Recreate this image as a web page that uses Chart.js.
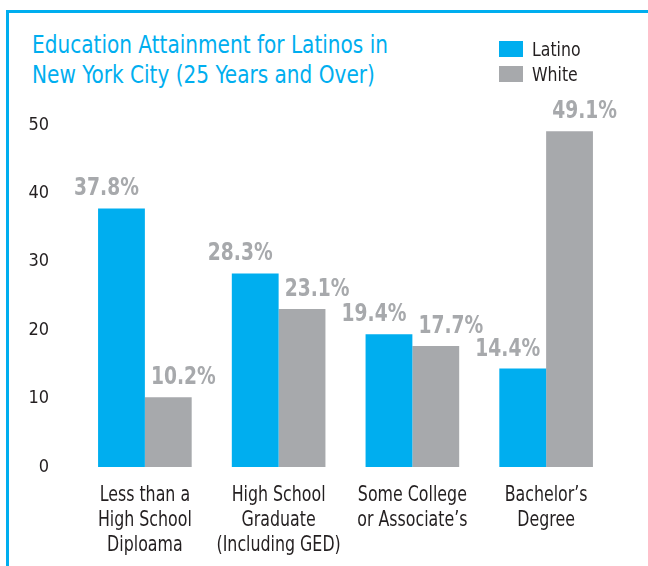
<!DOCTYPE html>
<html>
<head>
<meta charset="utf-8">
<script src="https://cdn.jsdelivr.net/npm/chart.js@4.4.1/dist/chart.umd.min.js"></script>
<style>
  html, body { margin: 0; padding: 0; background: #fff; }
  #wrap { position: relative; width: 648px; height: 566px; overflow: hidden; }
  #frame { position: absolute; left: 6px; top: 10px; right: -10px; bottom: -10px;
    border-top: 3px solid #00aeef; border-left: 3px solid #00aeef; }
  #titulo { position: absolute; left: 32px; top: 30px; font-family: 'DejaVu Sans Condensed', sans-serif;
    font-size: 24px; line-height: 30px; color: #00aeef; white-space: nowrap;
    transform: scaleX(0.93); transform-origin: 0 0; }
  .leg { position: absolute; left: 499px; height: 16px; font-family: 'DejaVu Sans Condensed', sans-serif;
    font-size: 19px; line-height: 16px; color: #231f20; white-space: nowrap; }
  .leg span { display: inline-block; width: 24px; height: 16px; vertical-align: top; margin-right: 9px; }
  .leg b { font-weight: normal; display: inline-block; transform: scaleX(0.92); transform-origin: 0 0; }
  canvas { position: absolute; left: 0; top: 0; }
</style>
</head>
<body>
<div id="wrap">
  <div id="frame"></div>
  <div id="titulo">Education Attainment for Latinos in<br>New York City (25 Years and Over)</div>
  <canvas id="myChart" width="648" height="566"></canvas>
</div>
<script>
var fonte = "'DejaVu Sans Condensed', sans-serif"

var categorias = [
  ['Less than a', 'High School', 'Diploama'],
  ['High School', 'Graduate', '(Including GED)'],
  ['Some College', 'or Associate\u2019s'],
  ['Bachelor\u2019s', 'Degree']
]
var latino = [37.8, 28.3, 19.4, 14.4]
var white = [10.2, 23.1, 17.7, 49.1]
var ticksY = [0, 10, 20, 30, 40, 50]

// texto "estreito": a fonte instalada e mais larga que a original
function textoEstreito(ctx, txt, x, y, sx) {
  ctx.save()
  ctx.translate(x, y)
  ctx.scale(sx, 1)
  ctx.fillText(txt, 0, 0)
  ctx.restore()
}

// rotulos de porcentagem em cima das barras + nomes das categorias
const rotulos = {
  id: 'rotulos',
  afterDatasetsDraw(chart, args, opts) {
    var ctx = chart.ctx
    ctx.save()
    ctx.font = 'bold 25px ' + fonte
    ctx.fillStyle = '#a7a9ac'
    ctx.textAlign = 'center'
    ctx.textBaseline = 'alphabetic'
    chart.data.datasets.forEach(function (ds, i) {
      var meta = chart.getDatasetMeta(i)
      meta.data.forEach(function (bar, j) {
        textoEstreito(ctx, ds.data[j].toFixed(1) + '%', bar.x + opts.desloc[i], bar.y - 13, 0.83)
      })
    })

    var xs = chart.scales.x
    ctx.font = '22px ' + fonte
    ctx.fillStyle = '#231f20'
    chart.data.labels.forEach(function (linhas, i) {
      var px = xs.getPixelForTick(i)
      linhas.forEach(function (l, k) {
        textoEstreito(ctx, l, px, xs.top + 34 + k * 25, 0.8)
      })
    })
    ctx.restore()
  }
}

const dados = {
  labels: categorias,
  datasets: [{
    label: 'Latino',
    backgroundColor: '#00aeef',
    data: latino
  }, {
    label: 'White',
    backgroundColor: '#a7a9ac',
    data: white
  }]
}

var config = {
  type: 'bar',
  data: dados,
  options: {
    responsive: false,
    animation: false,
    devicePixelRatio: 1,
    layout: { padding: { left: 0, right: 35, top: 125, bottom: 0 } },
    barPercentage: 1,
    categoryPercentage: 0.7,
    scales: {
      x: {
        grid: { display: false, drawTicks: false },
        border: { display: false },
        ticks: { display: false },
        afterFit: function (s) { s.height = 99 }
      },
      y: {
        min: 0,
        max: 50,
        grid: { display: false, drawTicks: false },
        border: { display: false },
        afterBuildTicks: function (s) { s.ticks = ticksY.map(function (v) { return { value: v } }) },
        ticks: {
          color: '#231f20',
          padding: 29,
          font: { family: fonte, size: 18 }
        },
        afterFit: function (s) { s.width = 78 }
      }
    },
    plugins: {
      legend: { display: false },
      tooltip: { enabled: false },
      rotulos: { desloc: [-15, 15] }
    }
  },
  plugins: [rotulos]
}

window.myChart = new Chart(document.getElementById('myChart'), config)

// legenda em html a partir dos datasets
dados.datasets.forEach(function (ds, i) {
  var d = document.createElement('div')
  d.className = 'leg'
  d.style.top = (41 + i * 25) + 'px'
  d.innerHTML = '<span style="background:' + ds.backgroundColor + '"></span><b>' + ds.label + '</b>'
  document.getElementById('wrap').appendChild(d)
})
</script>
</body>
</html>
